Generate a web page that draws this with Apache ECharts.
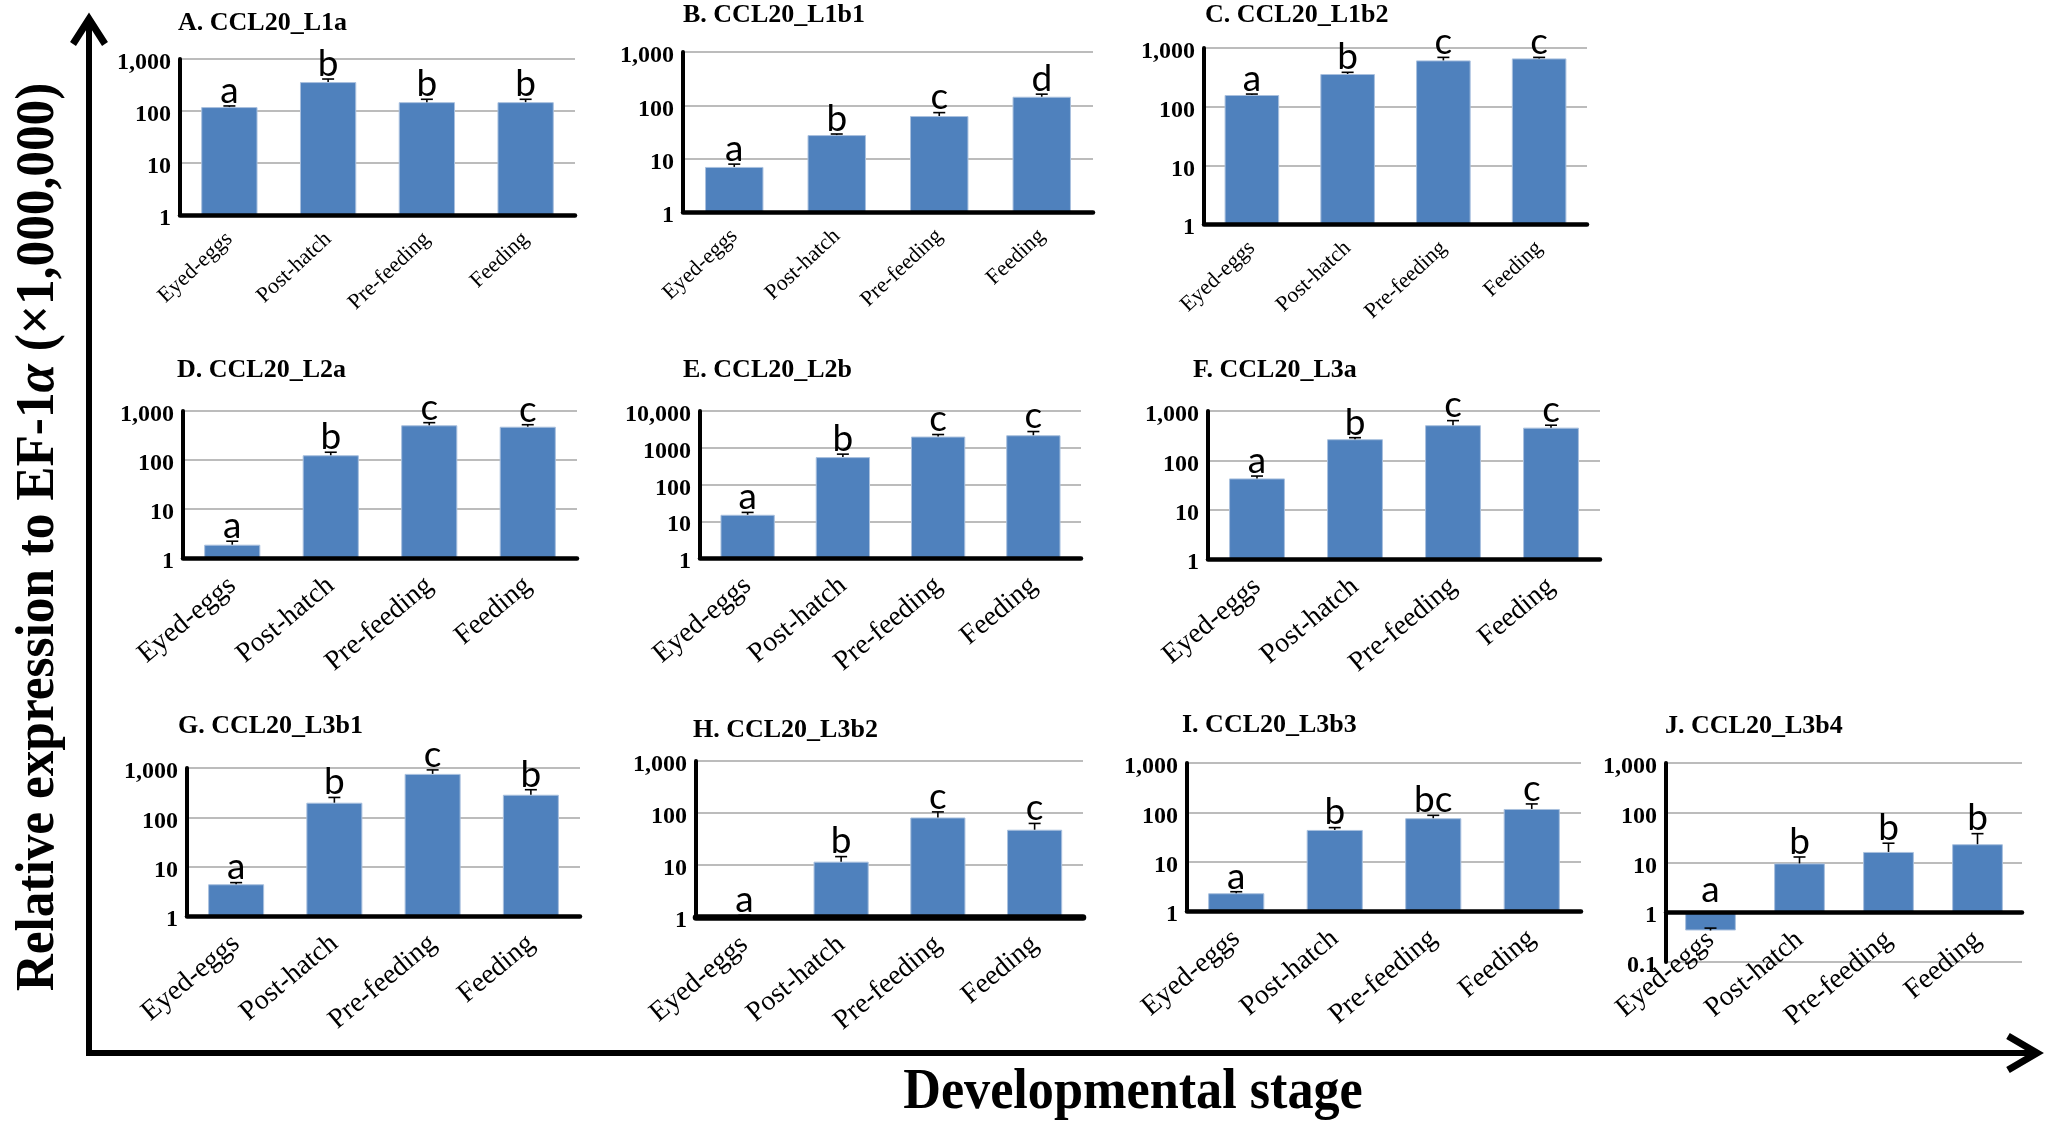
<!DOCTYPE html>
<html><head><meta charset="utf-8">
<script src="https://cdn.jsdelivr.net/npm/echarts@6/dist/echarts.min.js"></script>
<style>html,body{margin:0;padding:0;background:#fff;} #c{width:2049px;height:1124px;}</style>
</head><body><div id="c"></div>
<script>
// ---------------- data ----------------
const categories = ['Eyed-eggs', 'Post-hatch', 'Pre-feeding', 'Feeding'];
const panelNames = ['A. CCL20_L1a', 'B. CCL20_L1b1', 'C. CCL20_L1b2', 'D. CCL20_L2a', 'E. CCL20_L2b',
                    'F. CCL20_L3a', 'G. CCL20_L3b1', 'H. CCL20_L3b2', 'I. CCL20_L3b3', 'J. CCL20_L3b4'];

const meanA = [119, 360, 148, 148];   const upperA = [125, 412, 168, 168];   const lettersA = ['a', 'b', 'b', 'b'];
const meanB = [7.0, 27.7, 63, 145];   const upperB = [7.9, 29, 73, 162];     const lettersB = ['a', 'b', 'c', 'd'];
const meanC = [158, 360, 615, 665];   const upperC = [164, 385, 692, 692];   const lettersC = ['a', 'b', 'c', 'c'];
const meanD = [1.87, 125, 511, 478];  const upperD = [2.2, 144, 578, 525];   const lettersD = ['a', 'b', 'c', 'c'];
const meanE = [15, 556, 2017, 2190];  const upperE = [17.4, 670, 2290, 2760]; const lettersE = ['a', 'b', 'c', 'c'];
const meanF = [43, 268, 515, 460];    const upperF = [48, 288, 638, 515];    const lettersF = ['a', 'b', 'c', 'c'];
const meanG = [4.4, 198, 760, 287];   const upperG = [4.75, 253, 915, 363];  const lettersG = ['a', 'b', 'c', 'b'];
const meanH = [1.03, 11.6, 82, 47.7]; const upperH = [1.08, 14.5, 105, 63];  const lettersH = ['a', 'b', 'c', 'c'];
const meanI = [2.29, 44, 76, 117];    const upperI = [2.46, 49, 87, 148];    const lettersI = ['a', 'b', 'bc', 'c'];
const meanJ = [0.43, 9.6, 16.3, 23.3]; const upperJ = [0.48, 12.9, 24.4, 38]; const lettersJ = ['a', 'b', 'b', 'b'];

const tickLabels3 = ['1', '10', '100', '1,000'];          // 1 .. 1000
const tickLabelsE = ['1', '10', '100', '1000', '10,000']; // 1 .. 10000
const tickLabelsJ = ['0.1', '1', '10', '100', '1,000'];   // 0.1 .. 1000

const yTitle = 'Relative expression to EF-1';
const xTitle = 'Developmental stage';

// ---------------- layout (positions / styles only) ----------------
const panels = [
  { mean: meanA, upper: upperA, letters: lettersA, ticks: tickLabels3, min: 1, max: 1000, box: [180, 59, 395, 156], title: [178, 25], row: 0 },
  { mean: meanB, upper: upperB, letters: lettersB, ticks: tickLabels3, min: 1, max: 1000, box: [683, 52, 410, 160], title: [683, 17], row: 0 },
  { mean: meanC, upper: upperC, letters: lettersC, ticks: tickLabels3, min: 1, max: 1000, box: [1204, 48, 383, 176], title: [1205, 17], row: 0 },
  { mean: meanD, upper: upperD, letters: lettersD, ticks: tickLabels3, min: 1, max: 1000, box: [183, 411, 394, 147], title: [177, 372], row: 1 },
  { mean: meanE, upper: upperE, letters: lettersE, ticks: tickLabelsE, min: 1, max: 10000, box: [700, 411, 381, 147], title: [683, 372], row: 1 },
  { mean: meanF, upper: upperF, letters: lettersF, ticks: tickLabels3, min: 1, max: 1000, box: [1208, 411, 392, 148], title: [1193, 372], row: 1 },
  { mean: meanG, upper: upperG, letters: lettersG, ticks: tickLabels3, min: 1, max: 1000, box: [187, 768, 393, 148], title: [178, 728], row: 2 },
  { mean: meanH, upper: upperH, letters: lettersH, ticks: tickLabels3, min: 1, max: 1000, box: [696, 761, 387, 156], title: [693, 732], row: 2, thickX: true },
  { mean: meanI, upper: upperI, letters: lettersI, ticks: tickLabels3, min: 1, max: 1000, box: [1187, 763, 394, 148], title: [1182, 727], row: 2 },
  { mean: meanJ, upper: upperJ, letters: lettersJ, ticks: tickLabelsJ, min: 0.1, max: 1000, box: [1666, 763, 356, 199], title: [1665, 728], row: 2, crossAtOne: true }
];

const serif = 'Liberation Serif, Times New Roman, serif';
const letterFont = 'Lato, Noto Sans, sans-serif';
const barColor = '#4f81bd';

const grids = [], xAxes = [], yAxes = [], series = [], graphics = [];

panels.forEach((p, i) => {
  const [l, t, w, h] = p.box;
  grids.push({ left: l, top: t, width: w, height: h, containLabel: false });
  const logMin = Math.log10(p.min);
  const decades = Math.log10(p.max) - logMin;
  xAxes.push({
    type: 'category', gridIndex: i, data: categories,
    offset: p.crossAtOne ? -h * (0 - logMin) / decades : 0,
    axisLine: { show: true, onZero: false, lineStyle: { color: '#000', width: p.thickX ? 6.5 : 4.5 } },
    axisTick: { show: false },
    axisLabel: {
      interval: 0, rotate: p.row === 0 ? 43 : 40,
      fontFamily: serif, fontSize: p.row === 0 ? 22 : 28, color: '#000',
      margin: p.row === 0 ? 21 : 24
    },
    z: 5
  });
  yAxes.push({
    type: 'log', logBase: 10, gridIndex: i, min: p.min, max: p.max,
    axisLine: { show: true, lineStyle: { color: '#000', width: 4 } },
    axisTick: { show: false },
    splitLine: { show: true, lineStyle: { color: '#a6a6a6', width: 1.5 } },
    axisLabel: {
      fontFamily: serif, fontWeight: 'bold', fontSize: 24, color: '#000', margin: 9,
      verticalAlign: 'top', padding: [-8, 0, 0, 0],
      formatter: (v) => {
        const k = Math.round(Math.log10(v) - logMin);
        return p.ticks[k] !== undefined ? p.ticks[k] : '';
      }
    }
  });
  series.push({
    type: 'bar', xAxisIndex: i, yAxisIndex: i, data: p.mean,
    barWidth: '57%',
    itemStyle: { color: barColor, borderColor: '#a9c0de', borderWidth: 1 },
    z: 2
  });
  series.push({
    type: 'custom', xAxisIndex: i, yAxisIndex: i,
    data: p.mean.map((m, k) => [k, m, p.upper[k]]),
    z: 6,
    renderItem: (params, api) => {
      const k = params.dataIndex;
      const base = api.coord([api.value(0), api.value(1)]);
      const top = api.coord([api.value(0), api.value(2)]);
      const anchorVal = Math.max(api.value(2), 1);
      const anchor = api.coord([api.value(0), anchorVal]);
      const fs = 37;
      return {
        type: 'group',
        children: [
          { type: 'line', shape: { x1: base[0], y1: base[1], x2: top[0], y2: top[1] }, style: { stroke: '#000', lineWidth: 1.6 } },
          { type: 'line', shape: { x1: top[0] - 6, y1: top[1], x2: top[0] + 6, y2: top[1] }, style: { stroke: '#000', lineWidth: 1.6 } },
          { type: 'text', x: anchor[0], y: anchor[1] - (p.crossAtOne && api.value(2) < 1 ? 11 : 4) - 0.3 * fs,
            style: { text: p.letters[k], fontFamily: letterFont, fontSize: fs, fill: '#000', align: 'center', verticalAlign: 'middle' } }
        ]
      };
    }
  });
  graphics.push({
    type: 'text', left: p.title[0], top: p.title[1] - 15,
    style: { text: panelNames[i], fontFamily: serif, fontWeight: 'bold', fontSize: 26, fill: '#000' }
  });
});

// big axes with arrows
graphics.push(
  { type: 'line', shape: { x1: 89, y1: 1053, x2: 89, y2: 20 }, style: { stroke: '#000', lineWidth: 6 } },
  { type: 'polyline', shape: { points: [[73, 44], [89, 19], [105, 44]] }, style: { stroke: '#000', lineWidth: 7, fill: null, lineJoin: 'miter' } },
  { type: 'line', shape: { x1: 86, y1: 1053, x2: 2034, y2: 1053 }, style: { stroke: '#000', lineWidth: 6 } },
  { type: 'polyline', shape: { points: [[2008, 1036], [2037, 1053], [2008, 1070]] }, style: { stroke: '#000', lineWidth: 7, fill: null, lineJoin: 'miter' } },
  { type: 'text', x: 39, y: 537, rotation: Math.PI / 2, scaleX: 0.95,
    style: { text: yTitle + '{i|α} (×1,000,000)', fontFamily: serif, fontWeight: 'bold', fontSize: 54, fill: '#000',
             align: 'center', verticalAlign: 'middle',
             rich: { i: { fontFamily: serif, fontWeight: 'bold', fontStyle: 'italic', fontSize: 54 } } } },
  { type: 'text', x: 1133, y: 1093, scaleX: 0.9,
    style: { text: xTitle, fontFamily: serif, fontWeight: 'bold', fontSize: 58, fill: '#000', align: 'center', verticalAlign: 'middle' } }
);

const chart = echarts.init(document.getElementById('c'), null, { renderer: 'canvas' });
chart.setOption({
  backgroundColor: '#fff',
  animation: false,
  grid: grids, xAxis: xAxes, yAxis: yAxes, series: series, graphic: graphics
});
</script></body></html>
